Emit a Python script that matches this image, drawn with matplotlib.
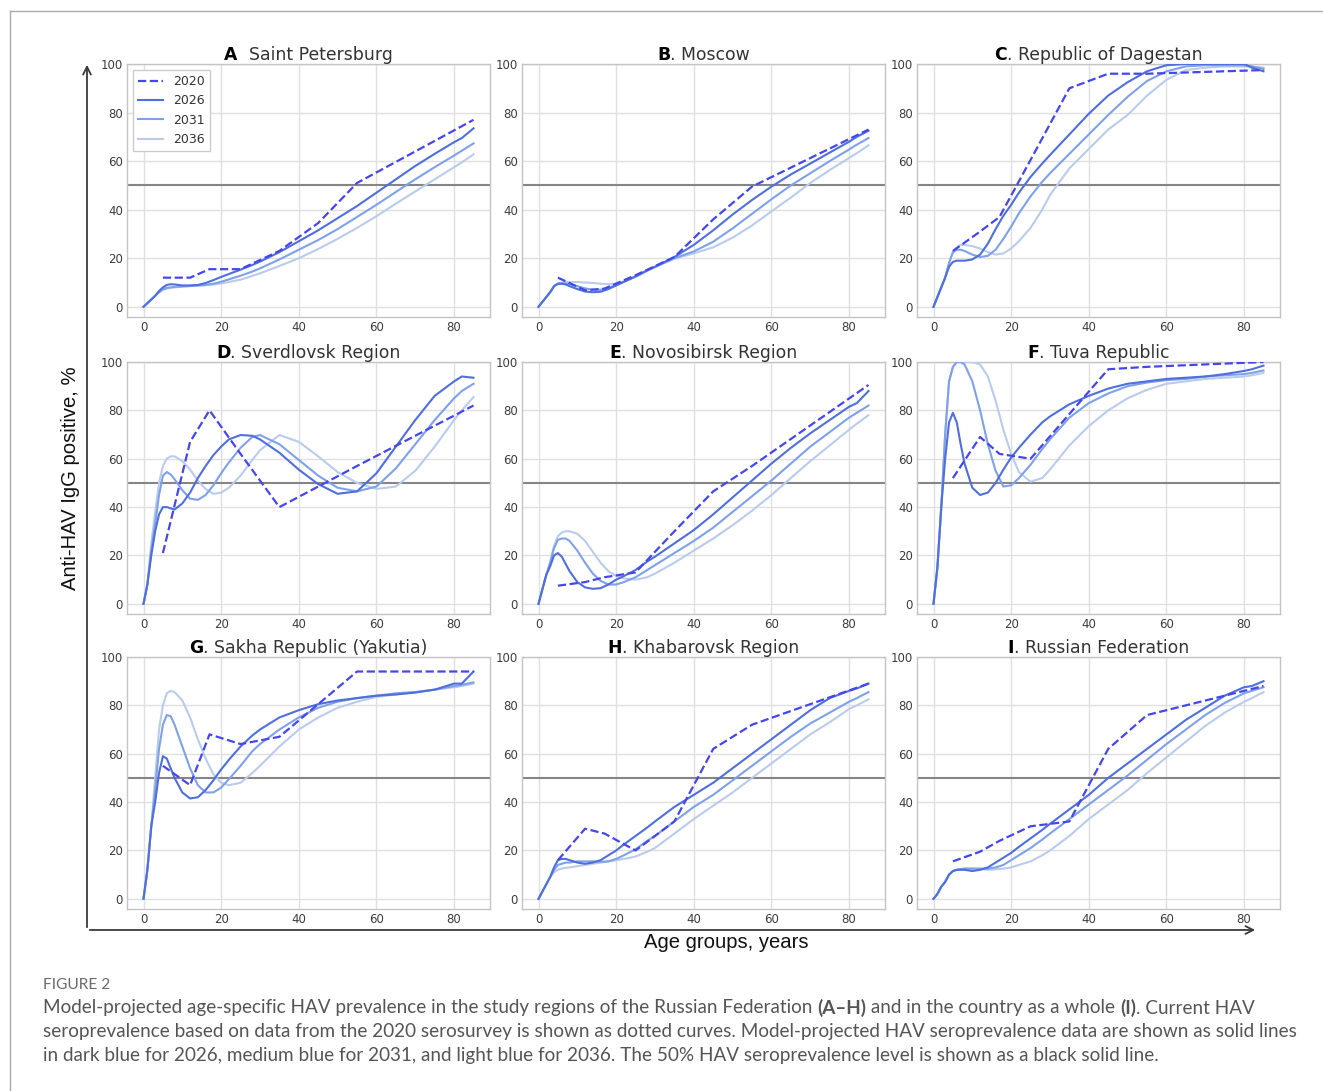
import matplotlib
matplotlib.use("Agg")
import matplotlib.pyplot as plt
from matplotlib.lines import Line2D
from matplotlib.patches import FancyArrowPatch

## Data
ages = [0, 1, 2, 3, 4, 5, 6, 7, 8, 10, 12, 14, 16, 18, 20, 22, 25, 28, 30, 35,
        40, 45, 50, 55, 60, 65, 70, 75, 80, 82, 85]
survey_ages = [5, 12, 17, 25, 35, 45, 55, 85]
years = ["2020", "2026", "2031", "2036"]

# A. Saint Petersburg
spb_2020 = [12, 12, 15.5, 15.5, 23, 34.5, 51, 77]
spb_2026 = [0, 1.5, 3, 4.5, 6.5, 8, 9, 9.3, 9.2, 8.8, 8.8, 9, 9.8, 11, 12.3, 13.5, 15.3, 17.2, 18.6, 22.5,
            27, 31.5, 36.5, 41.5, 47, 52.5, 58, 63, 67.8, 69.5, 73.5]
spb_2031 = [0, 1.5, 3, 4.5, 6, 7.2, 7.8, 8, 8.2, 8.4, 8.6, 8.8, 9, 9.5, 10.3, 11.3, 12.8, 14.5, 15.8, 19.5,
            23.5, 27.5, 32, 37, 42, 47.3, 52.5, 57.5, 62.3, 64.3, 67.3]
spb_2036 = [0, 1.5, 3, 4.5, 6, 7, 7.5, 7.8, 8, 8.3, 8.5, 8.7, 8.9, 9.2, 9.6, 10.2, 11.2, 12.7, 13.8, 16.8,
            20, 23.8, 28, 32.5, 37.3, 42.5, 47.5, 52.5, 57.5, 59.5, 62.8]

# B. Moscow
msk_2020 = [12, 6.8, 7.5, 13, 20.5, 36, 49.5, 73]
msk_2026 = [0, 2, 4, 6, 8.5, 9.5, 9.5, 9.2, 8.5, 7.3, 6.3, 6, 6.2, 7.3, 8.8, 10.3, 12.5, 15, 16.5, 20.5,
            25.5, 31.5, 38, 44, 49.5, 54.5, 59, 63.5, 68, 70, 72.5]
msk_2031 = [0, 2, 4, 6, 8.5, 9.5, 9.7, 9.6, 9.3, 8.5, 7.6, 7, 7, 7.8, 8.9, 10.3, 12.5, 15, 16.5, 20,
            22.8, 26.8, 32.3, 38.3, 44.3, 50, 55, 60, 64.8, 66.8, 69.5]
msk_2036 = [0, 2, 4, 6, 8.5, 9.5, 10, 10.2, 10.2, 10.2, 10, 9.8, 9.5, 9.3, 9.5, 10.5, 12.3, 14.8, 16.3, 19.8,
            22, 24.5, 28.5, 33.5, 39.3, 45, 51, 56.3, 61.3, 63.3, 66.5]

# C. Republic of Dagestan
dag_2020 = [23, 31, 37, 60.5, 90, 96, 96, 97.5]
dag_2026 = [0, 4, 8, 12, 16.5, 18.5, 19, 19, 19, 19.5, 21.5, 26, 32, 37.5, 42, 47, 53.5, 59, 62.5, 71,
            79.5, 87, 92.5, 97, 99.5, 100, 100, 100, 100, 98.5, 97]
dag_2031 = [0, 4, 8, 12, 18, 22.5, 23.5, 23.5, 23, 21.5, 20.5, 21, 23.5, 28, 33, 38.5, 45.5, 51.5, 55, 63,
            71, 79, 86.5, 93, 97, 99, 99.5, 99.5, 99.5, 99, 98]
dag_2036 = [0, 4, 8, 12, 18, 22.5, 24.5, 25.5, 25.5, 25, 24, 22.5, 21.5, 22, 24, 27, 32.5, 40, 46, 57,
            65, 73, 79, 87, 93.5, 97.5, 98.5, 99, 99, 99, 98.5]

# D. Sverdlovsk Region
svr_2020 = [21, 67, 80, 62, 40, 48.5, 57, 82]
svr_2026 = [0, 8, 20, 30, 37, 40, 40, 39.5, 39, 41.5, 46, 52, 57, 61.5, 65, 68, 69.8, 69.5, 68, 62.5,
            55.5, 49.5, 45.5, 46.5, 54, 65, 76, 86, 92, 94, 93.5]
svr_2031 = [0, 8, 22, 33, 45, 53, 54.5, 53.5, 51.5, 47, 43.5, 43, 45, 49, 54, 58.5, 64.5, 69, 69.8, 66,
            59.5, 53, 48, 46.5, 48.5, 56, 66, 76, 85, 88, 91]
svr_2036 = [0, 8, 25, 38, 50, 57, 60, 61, 61, 59, 55.5, 51, 47.5, 45.5, 46, 48, 53, 59.5, 63.5, 69.8,
            67, 61, 54.5, 50, 47.5, 48.5, 55, 65, 76, 80, 85.5]

# E. Novosibirsk Region
nsk_2020 = [7.5, 9, 11, 13, 30, 46.5, 57, 90.5]
nsk_2026 = [0, 6, 12, 15.5, 20, 21, 19.5, 16.5, 13.5, 9, 6.8, 6.2, 6.5, 8, 10, 11.5, 14, 17.5, 19.5, 25,
            30.5, 37, 44, 51, 58, 64.5, 70.5, 76, 81.5, 83, 88]
nsk_2031 = [0, 6, 12, 17, 23, 26.5, 27, 27, 26, 22, 17, 12.5, 9.5, 8, 8, 9, 11, 14, 16, 21,
            26, 31.5, 38, 44.5, 51, 58, 65, 71, 77, 79, 82]
nsk_2036 = [0, 6, 12, 17, 24, 28, 29.5, 30, 30, 29, 26, 21.5, 17, 13.5, 11.5, 10.5, 10, 11, 12.5, 17,
            22, 27, 32.5, 38.5, 45, 52, 59, 65.5, 72, 74.5, 78]

# F. Tuva Republic
tuv_2020 = [52, 69, 62, 60, 78.5, 97, 98, 100]
tuv_2026 = [0, 15, 40, 60, 75, 79, 75, 66, 58, 48, 45, 46, 50, 55.5, 60.5, 64.5, 70, 75, 77.5, 82.5,
            86, 89, 91, 92, 93, 93.5, 94, 95, 96.3, 97, 98.5]
tuv_2031 = [0, 15, 40, 70, 92, 98, 100, 100, 99, 92, 80, 66, 55, 48.5, 49, 52, 57.5, 64, 68, 77,
            83, 87, 90, 91.5, 92.5, 93, 94, 94.5, 95, 95.5, 96.5]
tuv_2036 = [0, 15, 40, 70, 92, 98, 100, 100, 100, 100, 99, 94, 84, 72, 62, 54.5, 50.5, 52, 55.5, 65.5,
            73.5, 80, 85, 88.5, 91, 92, 93, 93.5, 94, 94.5, 95.5]

# G. Sakha Republic (Yakutia)
yak_2020 = [55, 47, 68, 64, 67, 80.5, 94, 94]
yak_2026 = [0, 12, 30, 40, 52, 59, 58, 54, 50, 44, 41.5, 42, 45, 49, 53.5, 57.5, 63, 67.5, 70, 75,
            78, 80.5, 82, 83, 84, 84.5, 85.3, 86.5, 89, 89, 94]
yak_2031 = [0, 12, 30, 45, 62, 72, 76, 75.5, 72, 63, 54, 47, 44, 44, 46, 49.5, 55, 61, 64, 70,
            75, 79, 81.5, 83, 84, 85, 85.5, 86.5, 88, 88.5, 89.5]
yak_2036 = [0, 12, 30, 50, 70, 80, 85, 86, 85.5, 82, 75, 66, 58, 51.5, 48, 47, 48, 52, 55, 63,
            70, 75, 79, 81.5, 83.5, 84.5, 85.5, 86.5, 87.5, 88, 89]

# H. Khabarovsk Region
khb_2020 = [16, 29, 27, 20, 32, 62, 72, 89]
khb_2026 = [0, 3, 6, 9, 13, 16, 16.5, 16.5, 16, 15, 14.5, 15, 16, 18, 20, 22.5, 26, 29.5, 32, 38,
            43, 48, 54, 60, 66, 72, 78, 83, 86, 87, 89]
khb_2031 = [0, 3, 6, 9, 12, 14, 14.5, 15, 15, 15.5, 15.5, 15.5, 15.3, 15.5, 16.5, 18, 20.5, 24, 26, 32,
            38, 43, 49, 55, 61, 67, 72.5, 77, 81.5, 83, 85.5]
khb_2036 = [0, 3, 6, 9, 11, 12, 12.5, 12.8, 13, 13.5, 14, 14.5, 15, 15.5, 16, 16.5, 17.5, 19.5, 21, 27,
            33, 38.5, 44, 50, 56, 62, 68, 73, 78.5, 80, 82.5]

# I. Russian Federation
rus_2020 = [15.5, 19.5, 24, 30, 32, 62, 76, 88]
rus_2026 = [0, 2, 5, 7, 10, 11.5, 12, 12, 12, 11.5, 12, 13, 15, 17, 19, 21.5, 25, 28.5, 31, 37,
            43, 50, 56, 62, 68, 74, 79, 84, 87.5, 88, 90]
rus_2031 = [0, 2, 5, 7, 10, 11.5, 12, 12.3, 12.5, 12.5, 12.5, 12.5, 13, 14, 16, 18, 21, 24.5, 27, 33,
            39, 45, 51, 57.5, 64, 70, 76, 81, 85, 86, 87.5]
rus_2036 = [0, 2, 5, 7, 10, 11.5, 12, 12.3, 12.5, 12.5, 12.3, 12, 12.2, 12.5, 13, 14, 15.5, 18, 20, 26,
            33, 39, 45, 52, 58.5, 65, 71.5, 77, 81.5, 83, 85.5]

panels = [
    ("A", "  Saint Petersburg", spb_2020, spb_2026, spb_2031, spb_2036),
    ("B", ". Moscow", msk_2020, msk_2026, msk_2031, msk_2036),
    ("C", ". Republic of Dagestan", dag_2020, dag_2026, dag_2031, dag_2036),
    ("D", ". Sverdlovsk Region", svr_2020, svr_2026, svr_2031, svr_2036),
    ("E", ". Novosibirsk Region", nsk_2020, nsk_2026, nsk_2031, nsk_2036),
    ("F", ". Tuva Republic", tuv_2020, tuv_2026, tuv_2031, tuv_2036),
    ("G", ". Sakha Republic (Yakutia)", yak_2020, yak_2026, yak_2031, yak_2036),
    ("H", ". Khabarovsk Region", khb_2020, khb_2026, khb_2031, khb_2036),
    ("I", ". Russian Federation", rus_2020, rus_2026, rus_2031, rus_2036),
]

caption_head = "FIGURE 2"
caption_lines = [
    [("Model-projected age-specific HAV prevalence in the study regions of the Russian Federation ", "normal"),
     ("(A\u2013H)", "bold"), (" and in the country as a whole ", "normal"), ("(I)", "bold"),
     (". Current HAV", "normal")],
    [("seroprevalence based on data from the 2020 serosurvey is shown as dotted curves. "
      "Model-projected HAV seroprevalence data are shown as solid lines", "normal")],
    [("in dark blue for 2026, medium blue for 2031, and light blue for 2036. "
      "The 50% HAV seroprevalence level is shown as a black solid line.", "normal")],
]

## Styling
colors = {"2020": "#4646ee", "2026": "#4f6fdc", "2031": "#7fa1ea", "2036": "#bacbec"}
W, H = 1323, 1091
col_left = [127, 522, 917]
ax_width = 363
row_top = [64, 362, 657]
row_bottom = [317, 614, 909]

fig = plt.figure(figsize=(W / 100, H / 100), dpi=100)
renderer = fig.canvas.get_renderer()


def text_width(s, props):
    # add a bar so trailing spaces are counted
    t = fig.text(0, 0, s + "|", **props)
    b = fig.text(0, 0, "|", **props)
    w = t.get_window_extent(renderer).width - b.get_window_extent(renderer).width
    t.remove()
    b.remove()
    return w


def draw_pieces(x_px, y_px, pieces, center=False, **kw):
    props = [dict(kw, fontweight=wt, color=col) for _, wt, col in pieces]
    widths = [text_width(s, p) for (s, _, _), p in zip(pieces, props)]
    x = x_px - sum(widths) / 2 if center else x_px
    for (s, _, _), p, w in zip(pieces, props, widths):
        fig.text(x / W, 1 - y_px / H, s, ha="left", **p)
        x += w


for i, (letter, name, y20, y26, y31, y36) in enumerate(panels):
    r, c = divmod(i, 3)
    top, bottom = row_top[r], row_bottom[r]
    ax = fig.add_axes([col_left[c] / W, 1 - bottom / H, ax_width / W, (bottom - top) / H])
    ax.axhline(50, color="#858585", lw=1.5, zorder=1.5)
    ax.plot(survey_ages, y20, "--", color=colors["2020"], lw=1.6, label="2020", zorder=3)
    ax.plot(ages, y26, color=colors["2026"], lw=1.5, label="2026", zorder=2.9)
    ax.plot(ages, y31, color=colors["2031"], lw=1.5, label="2031", zorder=2.8)
    ax.plot(ages, y36, color=colors["2036"], lw=1.5, label="2036", zorder=2.7)
    ax.set_xlim(-4.25, 89.25)
    ax.set_ylim(-4.2, 100)
    ax.set_xticks(range(0, 81, 20))
    ax.set_yticks(range(0, 101, 20))
    ax.grid(color="#e0e0e0", lw=1)
    ax.set_axisbelow(True)
    ax.tick_params(length=0, labelsize=8.5, labelcolor="#3c3c3c", pad=3)
    for sp in ax.spines.values():
        sp.set_color("#c4c4c4")
        sp.set_linewidth(1)
    if i == 0:
        leg = ax.legend(loc="upper left", fontsize=9, framealpha=1, edgecolor="#cccccc",
                        fancybox=False, borderaxespad=0.5)
        for t in leg.get_texts():
            t.set_color("#333333")
    draw_pieces(col_left[c] + ax_width / 2, top - 4,
                [(letter, "bold", "black"), (name, "normal", "#333333")],
                center=True, fontsize=12.4, va="baseline")

## Outer axes with arrows
fig.add_artist(FancyArrowPatch((87 / W, 1 - 930 / H), (87 / W, 1 - 62 / H), transform=fig.transFigure,
                               arrowstyle="->", mutation_scale=14, lw=1.3, color="#3a3a3a"))
fig.add_artist(FancyArrowPatch((87 / W, 1 - 930 / H), (1258 / W, 1 - 930 / H), transform=fig.transFigure,
                               arrowstyle="->", mutation_scale=14, lw=1.3, color="#3a3a3a"))
fig.text(71 / W, 1 - 478 / H, "Anti-HAV IgG positive, %", rotation=90, ha="center", va="center",
         fontsize=14.6, family="Liberation Sans", color="#111111")
fig.text(726 / W, 1 - 943 / H, "Age groups, years", ha="center", va="center",
         fontsize=14.6, family="Liberation Sans", color="#111111")

## Page frame
fig.add_artist(Line2D([10 / W, 1], [1 - 11 / H, 1 - 11 / H], transform=fig.transFigure, color="#aaaaaa", lw=1))
fig.add_artist(Line2D([10 / W, 10 / W], [1 - 11 / H, 0], transform=fig.transFigure, color="#aaaaaa", lw=1))

## Caption
fig.text(43 / W, 1 - 985 / H, caption_head, ha="left", va="center", fontsize=11.2,
         family="Lato", color="#6a6a6a")
for k, line in enumerate(caption_lines):
    draw_pieces(43, 1008 + k * 23.5, [(s, wt, "#555555") for s, wt in line],
                fontsize=13.55, family="Lato", va="center")

fig.savefig("out.png", dpi=100)
